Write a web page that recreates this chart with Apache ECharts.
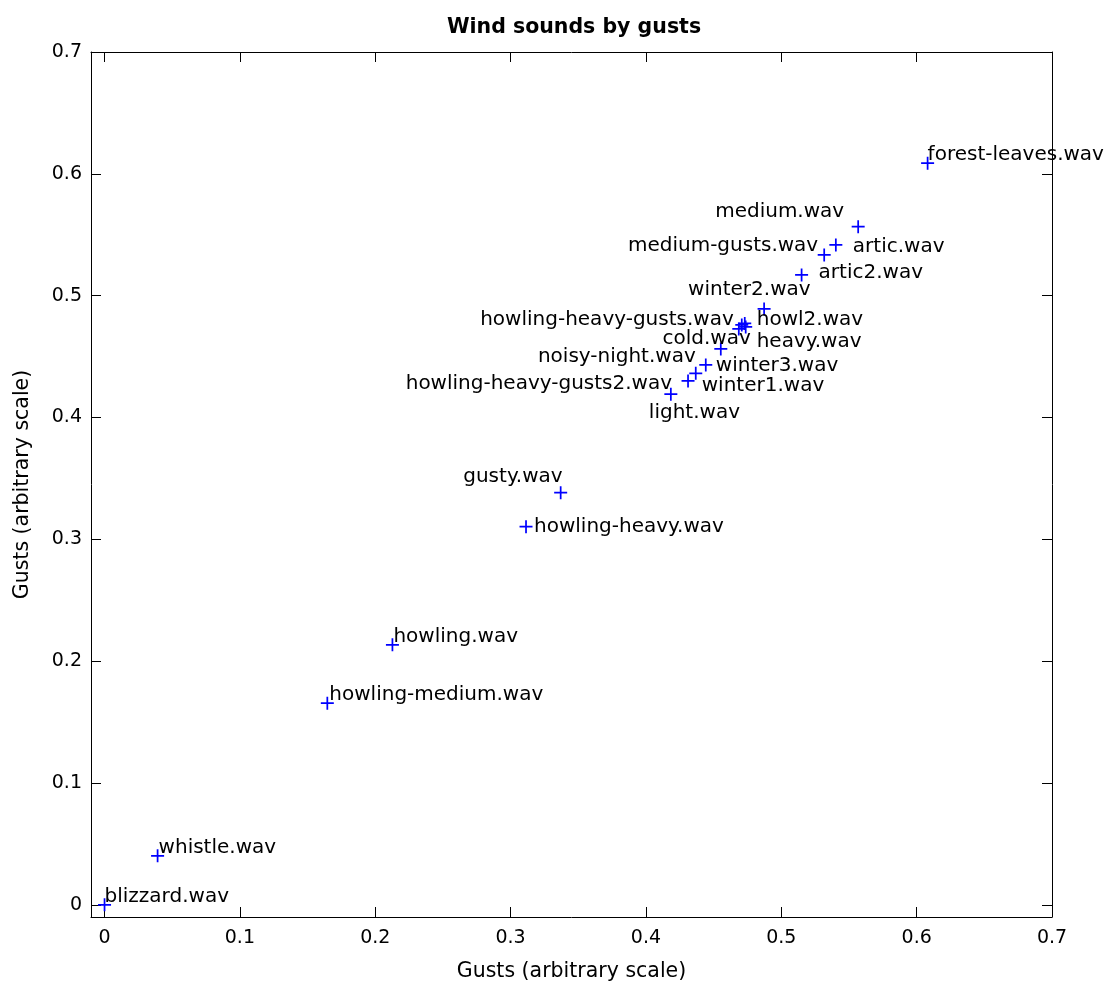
<!DOCTYPE html>
<html>
<head>
<meta charset="utf-8">
<script src="https://cdn.jsdelivr.net/npm/echarts@6/dist/echarts.min.js"></script>
<style>
html,body{margin:0;padding:0;background:#fff;}
#chart{width:1106px;height:983px;}
</style>
</head>
<body>
<div id="chart"></div>
<script>
// ---- data ----
const soundNames = [
  'blizzard.wav','whistle.wav','howling-medium.wav','howling.wav','howling-heavy.wav',
  'gusty.wav','light.wav','howling-heavy-gusts2.wav','winter1.wav','noisy-night.wav',
  'winter3.wav','cold.wav','heavy.wav','howling-heavy-gusts.wav','howl2.wav',
  'winter2.wav','artic2.wav','medium-gusts.wav','artic.wav','medium.wav','forest-leaves.wav'
];
const gustsX = [0, 0.0392, 0.1646, 0.2127, 0.3114, 0.3370, 0.4184, 0.4311, 0.4368, 0.4442,
  0.4553, 0.4686, 0.4737, 0.4708, 0.4730, 0.4873, 0.5150, 0.5317, 0.5403, 0.5568, 0.6081];
const gustsY = [0, 0.0402, 0.1655, 0.2134, 0.3104, 0.3383, 0.4191, 0.4300, 0.4363, 0.4431,
  0.4563, 0.4727, 0.4743, 0.4760, 0.4772, 0.4891, 0.5170, 0.5334, 0.5416, 0.5566, 0.6087];
const tickValues = [0, 0.1, 0.2, 0.3, 0.4, 0.5, 0.6, 0.7];
const tickLabels = ['0', '0.1', '0.2', '0.3', '0.4', '0.5', '0.6', '0.7'];

// ---- label placement (styling, separate from data) ----
const labelAlign = ['left','left','left','left','left','right','left','right','left','right',
  'left','right','left','right','left','left','left','right','left','right','left'];
const labelDX = [0, 1, 2, 1, 8, 2, -22, -16, 6, -10, -5, 12, 11, -8, 12, -76, 17, -6, 17, -14, 0];
const labelDY = [-8, -8, -8, -8, 0, -16, 19, 3, 13, -8, 17, 10, 15, -5, -4, -19, -2, -9, 2, -15, -8];

const FONT = 'DejaVu Sans';
const fmt = v => { const i = tickValues.findIndex(t => Math.abs(t - v) < 1e-9); return i >= 0 ? tickLabels[i] : ''; };

const chart = echarts.init(document.getElementById('chart'), null, {renderer: 'canvas'});

const axisCommon = () => ({
  type: 'value', min: -0.01, max: 0.7,
  axisLine: {show: true, onZero: false, lineStyle: {color: '#000', width: 1}},
  axisTick: {show: true, inside: true, length: 10, customValues: tickValues, lineStyle: {color: '#000', width: 1}},
  axisLabel: {show: false},
  splitLine: {show: false}
});

const data = soundNames.map((n, i) => ({
  name: n,
  value: [gustsX[i], gustsY[i]],
  label: {align: labelAlign[i], offset: [labelDX[i], labelDY[i]]}
}));

chart.setOption({
  animation: false,
  backgroundColor: '#fff',
  title: {
    text: 'Wind sounds by gusts', left: 569, top: 12, textAlign: 'center',
    textStyle: {fontFamily: FONT, fontSize: 20.5, fontWeight: 'bold', color: '#000'}
  },
  grid: {left: 91, right: 54, top: 52, bottom: 66, containLabel: false, outerBoundsMode: 'none'},
  xAxis: [
    Object.assign(axisCommon(), {
      position: 'bottom',
      name: 'Gusts (arbitrary scale)', nameLocation: 'middle', nameGap: 44,
      nameTextStyle: {fontFamily: FONT, fontSize: 20.5, color: '#000'},
      axisLabel: {show: true, customValues: tickValues, formatter: fmt, color: '#000',
        fontFamily: FONT, fontSize: 19, margin: 12}
    }),
    Object.assign(axisCommon(), {position: 'top'})
  ],
  yAxis: [
    Object.assign(axisCommon(), {
      position: 'left',
      name: 'Gusts (arbitrary scale)', nameLocation: 'middle', nameGap: 58,
      nameTextStyle: {fontFamily: FONT, fontSize: 20.5, color: '#000'},
      axisLabel: {show: true, customValues: tickValues, formatter: fmt, color: '#000',
        fontFamily: FONT, fontSize: 19, margin: 9}
    }),
    Object.assign(axisCommon(), {position: 'right'})
  ],
  series: [{
    type: 'scatter',
    xAxisIndex: 0, yAxisIndex: 0,
    symbol: 'path://M5.2,0 h1.6 v5.2 h5.2 v1.6 h-5.2 v5.2 h-1.6 v-5.2 h-5.2 v-1.6 h5.2 z',
    symbolSize: 13,
    itemStyle: {color: '#0000ff', opacity: 1},
    label: {
      show: true, position: 'inside', formatter: '{b}', verticalAlign: 'middle',
      color: '#000', fontFamily: FONT, fontSize: 20,
      textBorderWidth: 0, textBorderColor: 'transparent', textShadowBlur: 0
    },
    emphasis: {disabled: true},
    data: data
  }]
});
</script>
</body>
</html>
